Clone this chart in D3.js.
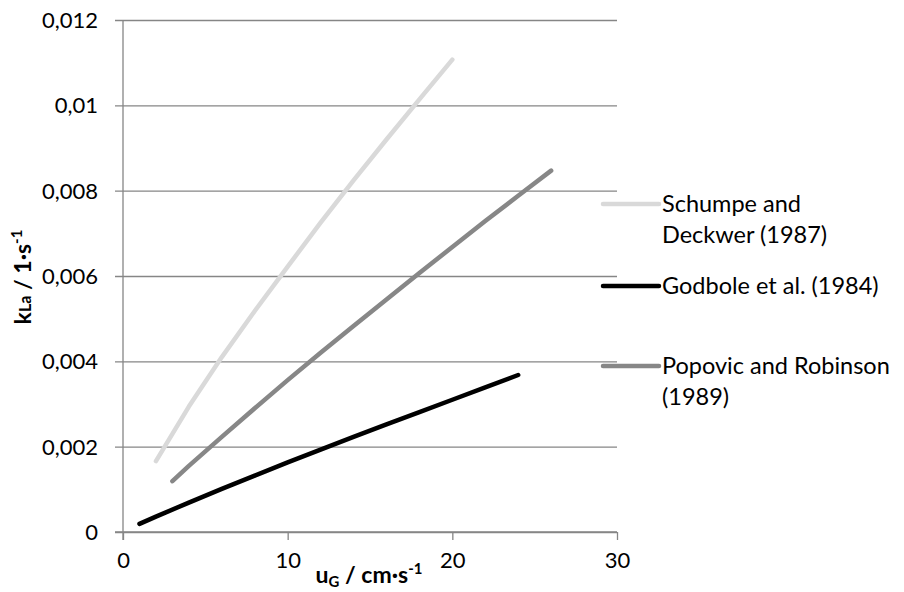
<!DOCTYPE html>
<html>
<head>
<meta charset="utf-8">
<script src="https://cdn.jsdelivr.net/npm/d3@7/dist/d3.min.js"></script>
<style>
  body{margin:0;background:#fff;}
  svg text{font-family:Lato,"Open Sans",sans-serif;fill:#000;}
</style>
</head>
<body>
<svg id="chart" width="904" height="592"></svg>
<script>
// ---- data ----
var names   = ['Schumpe and\nDeckwer (1987)','Godbole et al. (1984)','Popovic and Robinson\n(1989)'];
var colors  = ['#d9d9d9','#000000','#878787'];
var schumpeX = [2,4,6,8,10,12,14,16,18,20];
var schumpeY = [0.00166,0.00294,0.00410,0.00518,0.00622,0.00725,0.00824,0.00920,0.01014,0.01107];
var godboleX = [1,2,4,6,8,10,12,14,16,18,20,22,24];
var godboleY = [0.00019,0.00036,0.00069,0.00101,0.00132,0.00163,0.00193,0.00223,0.00252,0.00281,0.00310,0.00339,0.00368];
var popovicX = [3,4,6,8,10,12,14,16,18,20,22,24,26];
var popovicY = [0.00119,0.00155,0.00223,0.00290,0.00356,0.00420,0.00483,0.00545,0.00607,0.00668,0.00729,0.00788,0.00847];
var xTicks  = [0,10,20,30];
var yTicks  = [0,0.002,0.004,0.006,0.008,0.01,0.012];

var series = [
  {name:names[0],color:colors[0],x:schumpeX,y:schumpeY},
  {name:names[1],color:colors[1],x:godboleX,y:godboleY},
  {name:names[2],color:colors[2],x:popovicX,y:popovicY}
];

// ---- layout ----
var svg  = d3.select('#chart');
var grey = '#868686';
var fs   = 22;
var x = d3.scaleLinear().domain([0,30]).range([123,617]);
var y = d3.scaleLinear().domain([0,0.012]).range([532,20]);
var fmt = function(d){ return String(+d.toFixed(3)).replace('.',','); };

// gridlines + y axis
var yAx = svg.append('g').attr('transform','translate(123,0)')
  .call(d3.axisLeft(y).tickValues(yTicks).tickFormat(fmt)
    .tickSizeInner(-(617-123)).tickSizeOuter(0).tickPadding(25));
yAx.select('.domain').remove();
yAx.selectAll('.tick line').attr('x1',-8).attr('stroke',grey).attr('stroke-width',1.3);
yAx.selectAll('.tick text').attr('font-size',fs).attr('dy','0.34em');
svg.append('line').attr('x1',123).attr('x2',123).attr('y1',20).attr('y2',540)
  .attr('stroke',grey).attr('stroke-width',1.3);

// x axis
var xAx = svg.append('g').attr('transform','translate(0,532)')
  .call(d3.axisBottom(x).tickValues(xTicks).tickFormat(d3.format('d'))
    .tickSizeInner(8).tickSizeOuter(0).tickPadding(12));
xAx.select('.domain').remove();
xAx.selectAll('.tick line').attr('stroke',grey).attr('stroke-width',1.3);
xAx.selectAll('.tick text').attr('font-size',fs);
svg.append('line').attr('x1',115).attr('x2',617).attr('y1',532).attr('y2',532)
  .attr('stroke',grey).attr('stroke-width',1.3);

// series
var line = d3.line().x(function(d){return x(d[0]);}).y(function(d){return y(d[1]);});
series.forEach(function(s){
  svg.append('path').datum(d3.zip(s.x,s.y))
    .attr('d',line).attr('fill','none').attr('stroke',s.color)
    .attr('stroke-width',4.5).attr('stroke-linecap','round').attr('stroke-linejoin','round');
});

// axis titles
var tfs = 23;
var xt = svg.append('text').attr('x',369).attr('y',583).attr('text-anchor','middle')
  .attr('font-size',tfs).attr('font-weight','bold');
xt.append('tspan').text('u');
xt.append('tspan').attr('font-size',tfs*0.65).attr('dy',4).text('G');
xt.append('tspan').attr('dy',-4).text(' / cm·s');
xt.append('tspan').attr('font-size',tfs*0.65).attr('dy',-9).text('-1');

var yt = svg.append('text').attr('transform','translate(31,277) rotate(-90)')
  .attr('text-anchor','middle').attr('font-size',tfs).attr('font-weight','bold');
yt.append('tspan').text('k');
yt.append('tspan').attr('font-size',tfs*0.7).text('La');
yt.append('tspan').text(' / 1·s');
yt.append('tspan').attr('font-size',tfs*0.65).attr('dy',-9).text('-1');

// legend
var lfs  = 23.5;
var legY = [204,286,366];
var leg = svg.append('g').selectAll('g').data(series).enter().append('g')
  .attr('transform',function(d,i){return 'translate(603,'+legY[i]+')';});
leg.append('line').attr('x1',0).attr('x2',56).attr('stroke',function(d){return d.color;})
  .attr('stroke-width',4.5).attr('stroke-linecap','round');
leg.append('text').attr('x',59).attr('y',8).attr('font-size',lfs)
  .selectAll('tspan').data(function(d){return d.name.split('\n');}).enter()
  .append('tspan').attr('x',59).attr('dy',function(d,i){return i?31:0;})
  .text(function(d){return d;});
</script>
</body>
</html>
